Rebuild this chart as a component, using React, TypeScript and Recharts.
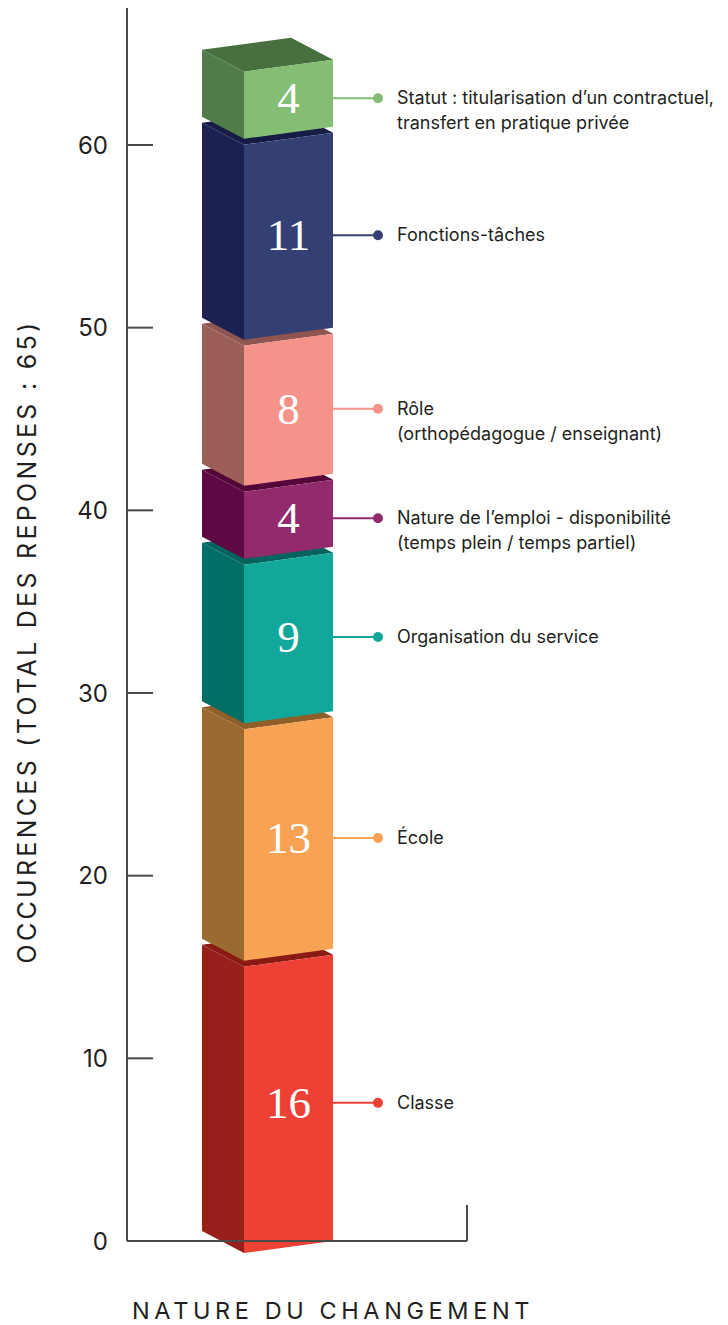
import React from 'react';
import { BarChart, Bar, XAxis, YAxis, Label } from 'recharts';

// ---- data ----
const categories = ['Nature du changement'];
const seriesKeys = ['classe', 'ecole', 'organisation', 'nature', 'role', 'fonctions', 'statut'];
const seriesValues = [16, 13, 9, 4, 8, 11, 4];
const seriesLabels = [
  ['Classe'],
  ['École'],
  ['Organisation du service'],
  ['Nature de l’emploi - disponibilité', '(temps plein / temps partiel)'],
  ['Rôle', '(orthopédagogue / enseignant)'],
  ['Fonctions-tâches'],
  ['Statut : titularisation d’un contractuel,', 'transfert en pratique privée'],
];
const yTicks = [0, 10, 20, 30, 40, 50, 60];
const yDomainMax = 67.5;
const yTitle = 'OCCURENCES (TOTAL DES REPONSES : 65)';
const xTitle = 'NATURE DU CHANGEMENT';

// ---- styles ----
const frontColors = ['#EE4136', '#F8A353', '#11A79A', '#922A6C', '#F59289', '#344074', '#84BD74'];
const sideColors = ['#98201A', '#9B6A31', '#026E66', '#5E0943', '#9C5F58', '#1B2150', '#4F7C48'];
const topColors = ['#8A1A14', '#8F5E29', '#02645C', '#540638', '#8F5550', '#161C46', '#48703F'];
const AXIS = '#4a4a4a';
const TEXT = '#231F20';
const SANS = 'Inter, "Noto Sans", sans-serif';
const SERIF = '"Liberation Serif", "DejaVu Serif", serif';

const DEPTH_X = 42;
const DEPTH_Y = 22;
const SLOPE = 12;
const GAP = 6;

const data = categories.map((c) => {
  const row: Record<string, any> = { category: c };
  seriesKeys.forEach((k, i) => {
    row[k] = seriesValues[i];
  });
  return row;
});

function makeShape(i: number) {
  return (props: any) => {
    const { x, y, width, height } = props;
    if (x == null || y == null) return null;
    const xl = x;
    const xr = x + width;
    const xs = x - DEPTH_X;
    const yT = y + GAP;
    const yB = y + height;
    const front = `M${xl},${yT + SLOPE} L${xr},${yT} L${xr},${yB} L${xl},${yB + SLOPE} Z`;
    const side = `M${xs},${yT + SLOPE - DEPTH_Y} L${xl},${yT + SLOPE} L${xl},${yB + SLOPE} L${xs},${yB + SLOPE - DEPTH_Y} Z`;
    const top = `M${xs},${yT + SLOPE - DEPTH_Y} L${xl},${yT + SLOPE} L${xr},${yT} L${xr - DEPTH_X},${yT - DEPTH_Y} Z`;
    const cy = (yT + yB) / 2 + 5;
    const lineEnd = xr + 45;
    const lines = seriesLabels[i];
    return (
      <g>
        <path d={top} fill={topColors[i]} />
        <path d={side} fill={sideColors[i]} />
        <path d={front} fill={frontColors[i]} />
        <text
          x={xl + width / 2}
          y={cy + 15}
          textAnchor="middle"
          fill="#ffffff"
          fontFamily={SERIF}
          fontSize={45}
        >
          {seriesValues[i]}
        </text>
        <line x1={xr} y1={cy} x2={lineEnd} y2={cy} stroke={frontColors[i]} strokeWidth={2} />
        <circle cx={lineEnd} cy={cy} r={5} fill={frontColors[i]} />
        <text x={xr + 64} y={cy + 6} fill={TEXT} fontFamily={SANS} fontSize={18}>
          {lines.map((t, j) => (
            <tspan key={j} x={xr + 64} dy={j === 0 ? 0 : 25}>
              {t}
            </tspan>
          ))}
        </text>
      </g>
    );
  };
}

const YTick = (props: any) => {
  const { x, y, payload } = props;
  return (
    <g>
      <line x1={x} y1={y} x2={x + 26} y2={y} stroke={AXIS} strokeWidth={2} />
      <text
        x={x - 19}
        y={y + 8.5}
        textAnchor="end"
        fill={TEXT}
        fontFamily={SANS}
        fontSize={24}
      >
        {payload.value}
      </text>
    </g>
  );
};

const YTitle = (props: any) => {
  const vb = props.viewBox || { x: 0, y: 8, width: 127, height: 1233 };
  const cx = vb.x + 36;
  const cy = vb.y + vb.height / 2 + 17;
  return (
    <text
      x={cx}
      y={cy}
      transform={`rotate(-90, ${cx}, ${cy})`}
      textAnchor="middle"
      fill={TEXT}
      fontFamily={SANS}
      fontSize={25}
      letterSpacing={3.3}
    >
      {yTitle}
    </text>
  );
};

const XTitle = (props: any) => {
  const vb = props.viewBox || { x: 127, y: 1241, width: 340, height: 84 };
  const xEnd = vb.x + vb.width;
  return (
    <g>
      <line x1={xEnd} y1={vb.y} x2={xEnd} y2={vb.y - 36} stroke={AXIS} strokeWidth={2} />
      <text
        x={vb.x + vb.width / 2 + 36}
        y={vb.y + 78}
        textAnchor="middle"
        fill={TEXT}
        fontFamily={SANS}
        fontSize={23.5}
        letterSpacing={4.6}
      >
        {xTitle}
      </text>
    </g>
  );
};

export default function App() {
  return (
    <div style={{ position: 'absolute', left: 0, top: 0, background: '#fff' }}>
      <BarChart
        width={728}
        height={1325}
        data={data}
        margin={{ top: 8, right: 261, bottom: 0, left: 0 }}
        barCategoryGap={0}
      >
        <XAxis
          dataKey="category"
          type="category"
          height={84}
          padding={{ left: 0, right: 17 }}
          axisLine={{ stroke: AXIS, strokeWidth: 2 }}
          tickLine={false}
          tick={false}
        >
          <Label content={<XTitle />} />
        </XAxis>
        <YAxis
          type="number"
          domain={[0, yDomainMax]}
          ticks={yTicks}
          width={127}
          axisLine={{ stroke: AXIS, strokeWidth: 2 }}
          tickLine={false}
          tickSize={0}
          tickMargin={0}
          tick={<YTick />}
          interval={0}
        >
          <Label content={<YTitle />} />
        </YAxis>
        {seriesKeys.map((k, i) => (
          <Bar
            key={k}
            dataKey={k}
            stackId="stack"
            barSize={89}
            isAnimationActive={false}
            shape={makeShape(i)}
          />
        ))}
      </BarChart>
    </div>
  );
}
